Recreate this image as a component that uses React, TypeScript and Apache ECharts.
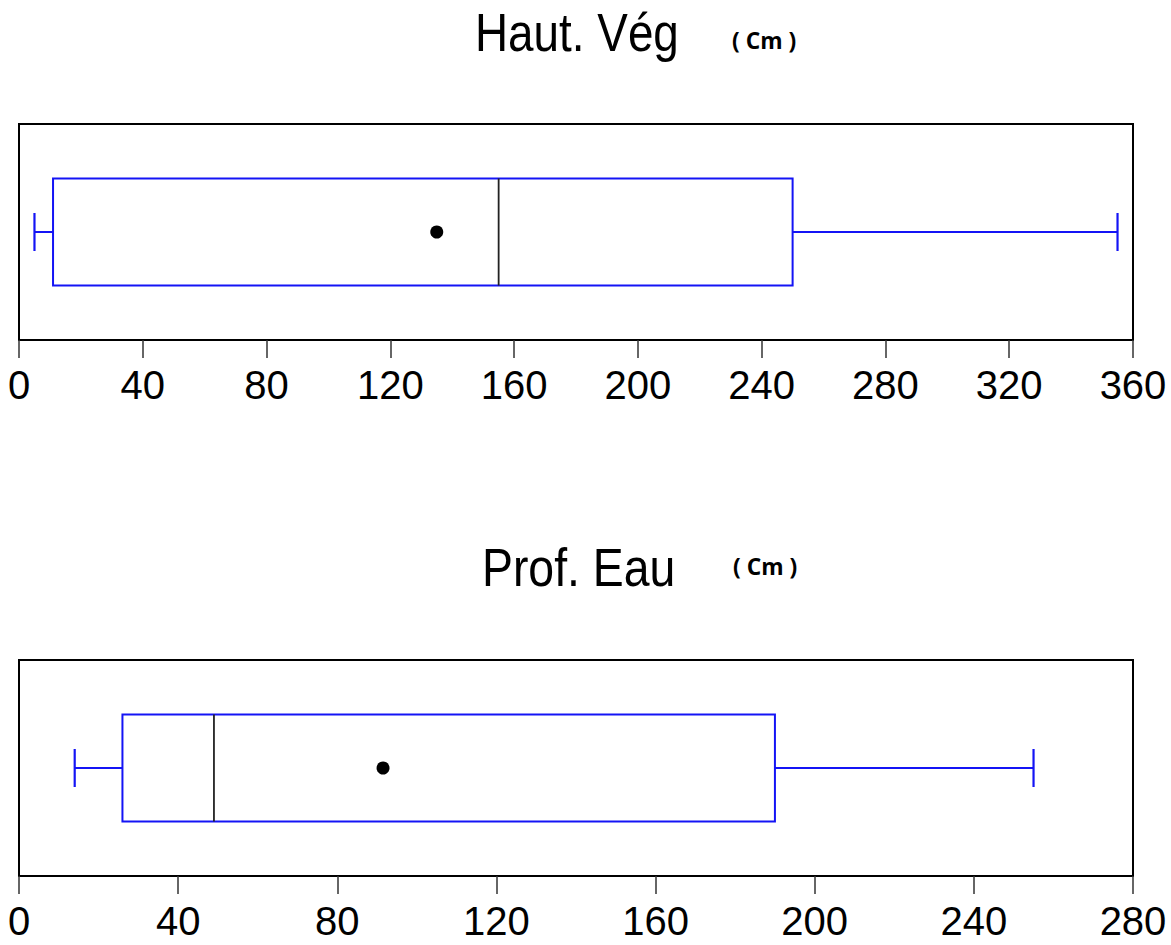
import React, { useEffect, useRef } from "react";
import * as echarts from "echarts";

const titles = ["Haut. Vég", "Prof. Eau"];
const unitLabel = "( Cm )";
const categories = ["Haut. Vég", "Prof. Eau"];
// min, Q1, median, Q3, max
const vegStats = [5, 11, 155, 250, 355];
const vegMean = 135;
const eauStats = [14, 26, 49, 190, 255];
const eauMean = 91.5;
const vegTicks = { min: 0, max: 360, interval: 40 };
const eauTicks = { min: 0, max: 280, interval: 40 };

const SANS = "'Liberation Sans', Arial, sans-serif";
const BLUE = "#1414f5";

function renderBox(params: any, api: any) {
  const y = api.value(0);
  const vals = [1, 2, 3, 4, 5].map((i) => api.value(i));
  const mean = api.value(6);
  const band = api.size([0, 1])[1];
  const pts = vals.map((v) => api.coord([v, y]));
  const cy = pts[0][1];
  const hb = band * 0.248;
  const hc = band * 0.088;
  const m = api.coord([mean, y]);
  return {
    type: "group",
    children: [
      { type: "line", shape: { x1: pts[0][0], y1: cy, x2: pts[1][0], y2: cy }, style: { stroke: BLUE, lineWidth: 2 } },
      { type: "line", shape: { x1: pts[0][0], y1: cy - hc, x2: pts[0][0], y2: cy + hc }, style: { stroke: BLUE, lineWidth: 2.2 } },
      { type: "line", shape: { x1: pts[3][0], y1: cy, x2: pts[4][0], y2: cy }, style: { stroke: BLUE, lineWidth: 2 } },
      { type: "line", shape: { x1: pts[4][0], y1: cy - hc, x2: pts[4][0], y2: cy + hc }, style: { stroke: BLUE, lineWidth: 2.2 } },
      {
        type: "rect",
        shape: { x: pts[1][0], y: cy - hb, width: pts[3][0] - pts[1][0], height: 2 * hb },
        style: { fill: "none", stroke: BLUE, lineWidth: 2 },
      },
      { type: "line", shape: { x1: pts[2][0], y1: cy - hb, x2: pts[2][0], y2: cy + hb }, style: { stroke: "#222", lineWidth: 1.8 } },
      { type: "circle", shape: { cx: m[0], cy: m[1], r: 6.5 }, style: { fill: "#000" } },
    ],
  };
}

export default function App() {
  const ref = useRef<HTMLDivElement>(null);
  useEffect(() => {
    if (!ref.current) return;
    const chart = echarts.init(ref.current, undefined, { renderer: "svg" });
    const xAxisBase = (t: any, gi: number) => ({
      type: "value",
      gridIndex: gi,
      min: t.min,
      max: t.max,
      interval: t.interval,
      splitLine: { show: false },
      axisLine: { show: true, lineStyle: { color: "#000", width: 2 } },
      axisTick: { show: true, length: 18, lineStyle: { color: "#333", width: 1.5 } },
      axisLabel: { fontFamily: SANS, fontSize: 40, color: "#000", margin: 25 },
    });
    const yAxisBase = (gi: number, cat: string) => ({
      type: "category",
      gridIndex: gi,
      data: [cat],
      show: false,
    });
    const titleStyle = (text: string) => ({ text, fontFamily: SANS, fontSize: 53, fill: "#000", verticalAlign: "top" });
    const unitStyle = { text: unitLabel, fontFamily: "'Open Sans', sans-serif", fontWeight: "bold", fontSize: 24, fill: "#000", verticalAlign: "top" };
    chart.setOption({
      animation: false,
      backgroundColor: "#fff",
      grid: [
        { left: 19, width: 1114, top: 124, height: 216, show: true, borderColor: "#000", borderWidth: 2, backgroundColor: "transparent" },
        { left: 19, width: 1114, top: 660, height: 216, show: true, borderColor: "#000", borderWidth: 2, backgroundColor: "transparent" },
      ],
      xAxis: [xAxisBase(vegTicks, 0), xAxisBase(eauTicks, 1)],
      yAxis: [yAxisBase(0, categories[0]), yAxisBase(1, categories[1])],
      graphic: [
        { type: "text", x: 475, y: 6, scaleX: 0.865, style: titleStyle(titles[0]) },
        { type: "text", x: 732, y: 28, scaleX: 0.95, style: unitStyle },
        { type: "text", x: 482, y: 541, scaleX: 0.875, style: titleStyle(titles[1]) },
        { type: "text", x: 733, y: 554, scaleX: 0.95, style: unitStyle },
      ],
      series: [
        {
          type: "custom",
          xAxisIndex: 0,
          yAxisIndex: 0,
          clip: false,
          encode: { x: [1, 2, 3, 4, 5, 6], y: 0 },
          data: [[0, ...vegStats, vegMean]],
          renderItem: renderBox,
        },
        {
          type: "custom",
          xAxisIndex: 1,
          yAxisIndex: 1,
          clip: false,
          encode: { x: [1, 2, 3, 4, 5, 6], y: 0 },
          data: [[0, ...eauStats, eauMean]],
          renderItem: renderBox,
        },
      ],
    });
    return () => chart.dispose();
  }, []);
  return <div ref={ref} style={{ position: "fixed", left: 0, top: 0, width: 1171, height: 945 }} />;
}
